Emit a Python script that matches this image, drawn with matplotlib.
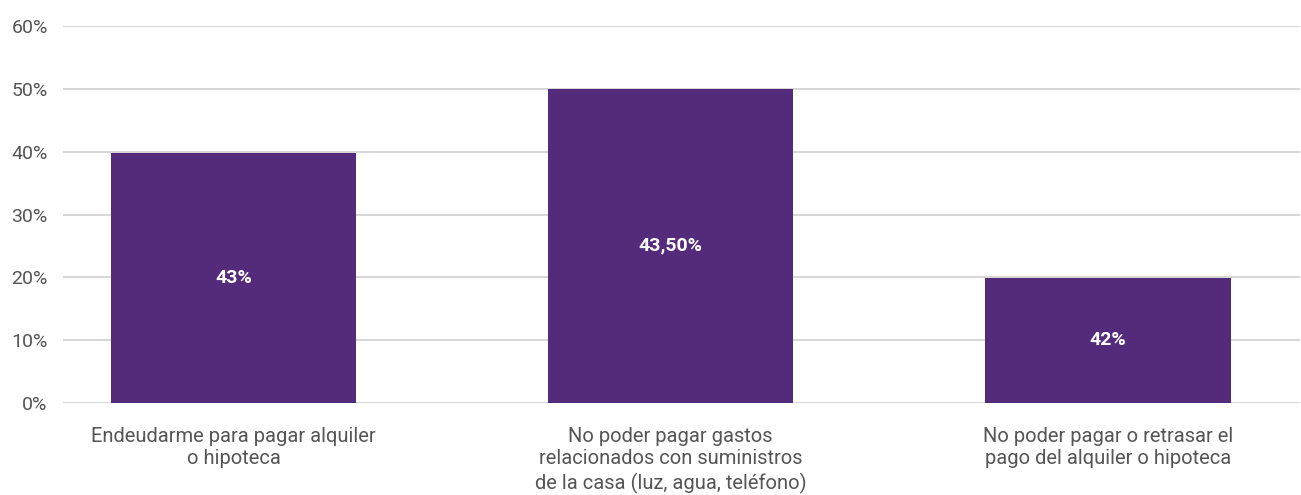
import matplotlib.pyplot as plt

# data
categories = ["Endeudarme para pagar alquiler\no hipoteca",
              "No poder pagar gastos\nrelacionados con suministros\nde la casa (luz, agua, teléfono)",
              "No poder pagar o retrasar el\npago del alquiler o hipoteca"]
values = [39.8, 50.0, 19.9]
bar_labels = ["43%", "43,50%", "42%"]
yticks = [0, 10, 20, 30, 40, 50, 60]

plt.rcParams['font.family'] = ['Roboto', 'DejaVu Sans']

fig = plt.figure(figsize=(13.01, 4.95), dpi=100)
ax = fig.add_axes([63/1301, 1-403/495, (1300-63)/1301, (403-26)/495])

x = list(range(len(categories)))
bars = ax.bar(x, values, width=0.562, color="#542a7a", zorder=3)

for b, lab in zip(bars, bar_labels):
    ax.text(b.get_x() + b.get_width()/2, b.get_height()/2, lab,
            ha="center", va="center", color="white", fontsize=14,
            fontweight="bold", zorder=4)

ax.set_xlim(-0.39, 2.44)
ax.set_ylim(0, 60)
ax.set_yticks(yticks)
ax.set_yticklabels([f"{t}%" for t in yticks])
ax.yaxis.grid(True, color="#d0d0d0", linewidth=1.2)
ax.set_axisbelow(True)

ax.set_xticks(x)
ax.set_xticklabels(categories, fontsize=14.5, color="#555555", linespacing=1.25)
ax.tick_params(axis="y", labelsize=14, labelcolor="#555555", length=0, pad=11)
ax.tick_params(axis="x", length=0, pad=17)

for s in ax.spines.values():
    s.set_visible(False)

fig.savefig("out.png", dpi=100)
